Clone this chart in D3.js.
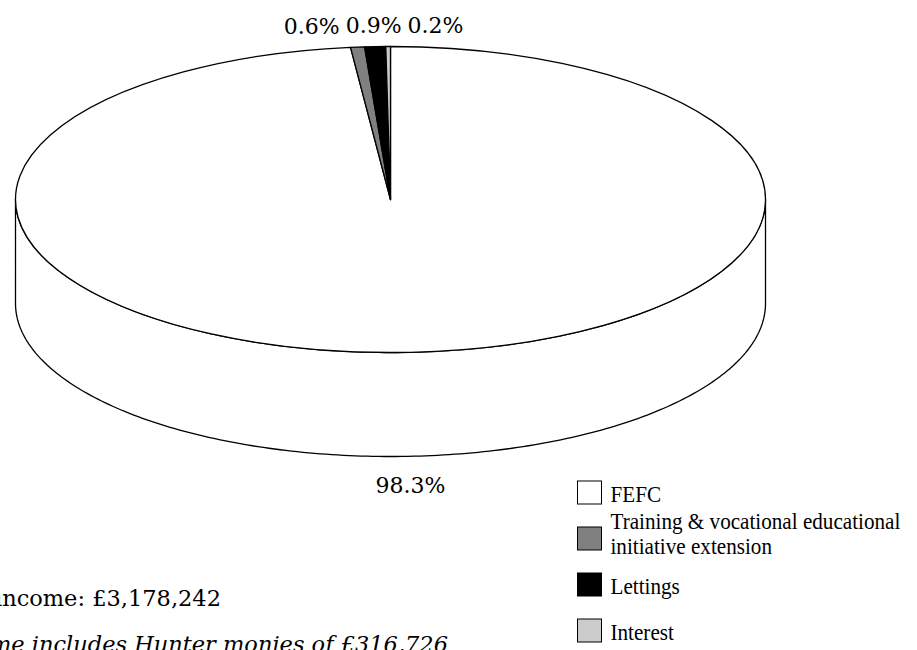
<!DOCTYPE html>
<html>
<head>
<meta charset="utf-8">
<script src="https://cdn.jsdelivr.net/npm/d3@7"></script>
<style>
  body { margin: 0; background: #fff; }
  svg { display: block; }
</style>
</head>
<body>
<svg id="chart" width="917" height="650"></svg>
<script>
// Income sources (percent of total income)
const categories = ["FEFC", "Training & vocational educational initiative extension", "Lettings", "Interest"];
const legendLines = [["FEFC"], ["Training & vocational educational", "initiative extension"], ["Lettings"], ["Interest"]];
const shares = [98.3, 0.6, 0.9, 0.2];
const fills = ["#ffffff", "#808080", "#000000", "#cccccc"];
const totalIncomeText = "Total income: £3,178,242";
const footnoteText = "Total income includes Hunter monies of £316,726";

const svg = d3.select("#chart");

// 3D pie geometry (tilted ellipse plus a side wall)
const cx = 390.5, cy = 199.5, rx = 375, ry = 153, depth = 104;
const serif = "'DejaVu Serif', serif";

const data = categories.map((c, i) => ({ name: c, value: shares[i], fill: fills[i] }));
const pie = d3.pie().value(d => d.value).sort(null).startAngle(0).endAngle(2 * Math.PI);
const arcs = pie(data);

const px = a => cx + rx * Math.sin(a);
const py = a => cy - ry * Math.cos(a);

// Side wall: only the front half (angles between PI/2 and 3PI/2) is visible
const sideG = svg.append("g");
const line = d3.line();
arcs.forEach(a => {
  const s = Math.max(a.startAngle, Math.PI / 2);
  const e = Math.min(a.endAngle, 3 * Math.PI / 2);
  if (e <= s) return;
  const steps = 200;
  const ang = d3.range(steps + 1).map(k => s + (e - s) * k / steps);
  const topEdge = ang.map(t => [px(t), py(t)]);
  const bottomEdge = ang.slice().reverse().map(t => [px(t), py(t) + depth]);
  sideG.append("path")
    .attr("d", line(topEdge.concat(bottomEdge)) + "Z")
    .attr("fill", a.data.fill)
    .attr("stroke", "#000")
    .attr("stroke-width", 1.3)
    .attr("stroke-linejoin", "round");
});

// Top face: circular arcs squashed into the ellipse
const arcGen = d3.arc().innerRadius(0).outerRadius(rx);
svg.append("g")
  .attr("transform", `translate(${cx},${cy}) scale(1,${ry / rx})`)
  .selectAll("path")
  .data(arcs)
  .join("path")
  .attr("d", arcGen)
  .attr("fill", d => d.data.fill)
  .attr("stroke", "#000")
  .attr("stroke-width", 1.3)
  .attr("stroke-linejoin", "round")
  .attr("vector-effect", "non-scaling-stroke");

// Percentage labels outside the pie
const fmt = d3.format(".1f");
const gapBack = 8, gapFront = 16;
const labelG = svg.append("g")
  .attr("font-family", serif)
  .attr("font-size", 22)
  .attr("fill", "#000");

const labels = arcs.map(a => {
  const m = (a.startAngle + a.endAngle) / 2;
  const front = Math.cos(m) < 0;
  const ax = px(m);
  const ay = py(m) + (front ? depth : 0);
  const t = labelG.append("text").text(fmt(a.data.value) + "%").attr("text-anchor", "middle");
  const bb = t.node().getBBox();
  return { node: t, x: ax, y: ay, w: bb.width, front, m };
});

// Spread labels that collide on the same side
function spread(items, gap) {
  items.sort((p, q) => p.x - q.x);
  let clusters = items.map(d => ({ items: [d], x: d.x, w: d.w }));
  let merged = true;
  while (merged) {
    merged = false;
    for (let i = 1; i < clusters.length; i++) {
      const a = clusters[i - 1], b = clusters[i];
      if (b.x - b.w / 2 < a.x + a.w / 2 + gap) {
        const its = a.items.concat(b.items);
        clusters.splice(i - 1, 2, {
          items: its,
          x: d3.mean(its, d => d.x),
          w: d3.sum(its, d => d.w) + gap * (its.length - 1)
        });
        merged = true;
        break;
      }
    }
  }
  clusters.forEach(c => {
    let left = c.x - c.w / 2;
    c.items.forEach(d => { d.lx = left + d.w / 2; left += d.w + gap; });
  });
}
spread(labels.filter(d => !d.front), 6);
spread(labels.filter(d => d.front), 6);

labels.forEach(d => {
  const ascent = 20.4, descent = 5.2;
  const baseline = d.front ? d.y + gapFront + ascent : d.y - gapBack - descent;
  d.node.attr("x", d.lx).attr("y", baseline);
});

// Legend
const legendX = 577.5, boxW = 24, boxH = 23, lineH = 25;
const rowY = d3.scalePoint().domain(categories).range([492.5, 630.5]);
const legend = svg.append("g");
data.forEach((d, i) => {
  const yc = rowY(d.name);
  legend.append("rect")
    .attr("x", legendX).attr("y", yc - boxH / 2)
    .attr("width", boxW).attr("height", boxH)
    .attr("fill", d.fill).attr("stroke", "#000").attr("stroke-width", 1);
  const lines = legendLines[i];
  const n = lines.length;
  lines.forEach((txt, k) => {
    const base = yc + 9.5 + (k - (n - 1) / 2) * lineH - (n - 1) * 7;
    legend.append("text")
      .attr("transform", `translate(${legendX + 33},${base}) scale(0.92,1)`)
      .attr("font-family", "'Liberation Serif', 'Times New Roman', serif")
      .attr("font-size", 23)
      .attr("fill", "#000")
      .text(txt);
  });
});

// Notes below the chart
svg.append("text")
  .attr("x", 221).attr("y", 606)
  .attr("text-anchor", "end")
  .attr("font-family", serif).attr("font-size", 22.5)
  .attr("fill", "#000")
  .text(totalIncomeText);

svg.append("text")
  .attr("x", 448).attr("y", 652)
  .attr("text-anchor", "end")
  .attr("font-family", serif).attr("font-size", 22.5)
  .attr("font-style", "italic")
  .attr("fill", "#000")
  .text(footnoteText);
</script>
</body>
</html>
